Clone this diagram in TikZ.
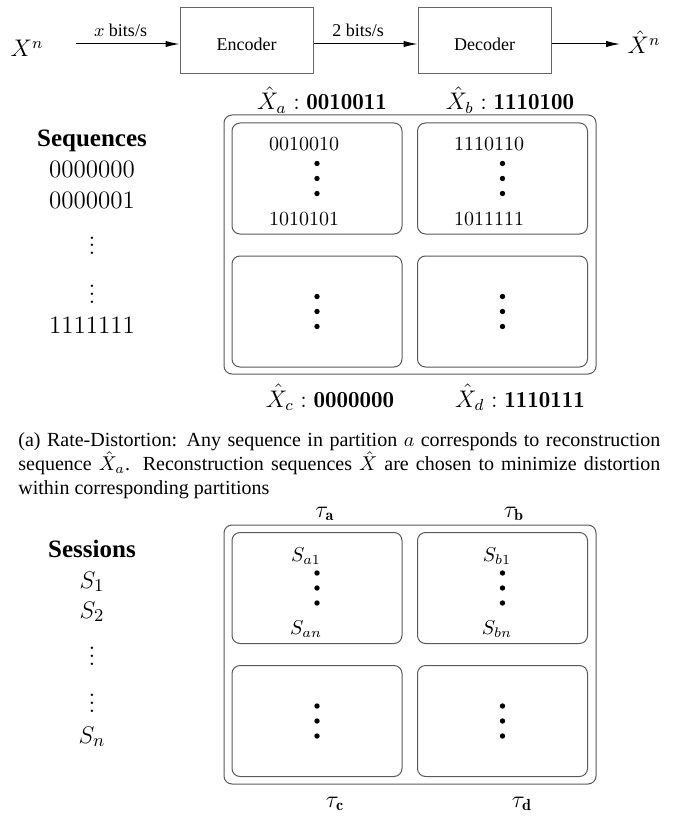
\documentclass[tikz,border=0pt]{standalone}
\usepackage{fontspec}
\newfontfamily\timesfont{Liberation Serif}
\usepackage{tikz}
\usetikzlibrary{arrows.meta,positioning}

\begin{document}
\begin{tikzpicture}[
  x=0.5pt, y=-0.5pt,
  block/.style={rectangle, draw=black!60, line width=0.5pt, minimum width=66.5pt, minimum height=33pt, text height=10pt, text depth=0pt, inner sep=0pt, font=\timesfont\fontsize{9}{11}\selectfont},
  arr/.style={-{Latex[length=7pt,width=3.2pt]}, line width=0.5pt},
  outerbox/.style={rectangle, draw=black!65, rounded corners=4pt, line width=0.5pt, minimum width=186pt, minimum height=129.5pt},
  partbox/.style={rectangle, draw=black!65, rounded corners=4pt, line width=0.5pt, minimum width=85pt, minimum height=55.5pt},
  lbl/.style={anchor=base, inner sep=0pt, font=\fontsize{11.5}{13}\selectfont},
  seqtxt/.style={anchor=base, inner sep=0pt, font=\fontsize{12.5}{15}\selectfont},
  boxtxt/.style={anchor=base, inner sep=0pt, font=\fontsize{10}{12}\selectfont},
  headtxt/.style={anchor=base, inner sep=0pt, font=\timesfont\bfseries\fontsize{12.5}{15}\selectfont},
  ratelbl/.style={anchor=base, inner sep=0pt, yshift=3.5pt, pos=0.43, font=\timesfont\fontsize{9}{11}\selectfont}
]
  \useasboundingbox (0,0) rectangle (678,818);

  % encoder / decoder chain
  \node[lbl] (xn) at (27,57) {$X^n$};
  \coordinate (src) at (76,44);
  \node[block] (enc) at (246.5,41) {Encoder};
  \node[block] (dec) at (484.5,41) {Decoder};
  \coordinate (sink) at (620,44);
  \node[lbl] (xhat) at (644,54) {$\hat{X}^n$};

  \draw[arr] (src) -- node[ratelbl] (r1) {$x$ bits/s} ([yshift=-1.5pt]enc.west);
  \draw[arr] ([yshift=-1.5pt]enc.east) -- node[ratelbl] (r2) {2 bits/s} ([yshift=-1.5pt]dec.west);
  \draw[arr] ([yshift=-1.5pt]dec.east) -- (sink);

  % sequences and partitions
  \node[headtxt] (seqh) at (92,147) {Sequences};
  \node[seqtxt] (q0) at (92,178) {0000000};
  \node[seqtxt] (q1) at (92,208) {0000001};
  \node[seqtxt] (qd1) at (92,255) {$\vdots$};
  \node[seqtxt] (qd2) at (92,303) {$\vdots$};
  \node[seqtxt] (q7) at (92,333) {1111111};

  \node[outerbox] (grid1) at (410,244.5) {};
  \node[partbox] (pa) at (317,178.5) {};
  \node[partbox] (pb) at (502.5,178.5) {};
  \node[partbox] (pc) at (317,311.5) {};
  \node[partbox] (pd) at (502.5,311.5) {};

  \node[lbl] (xa) at (322,110) {$\hat{X}_a : \mathbf{0010011}$};
  \node[lbl] (xb) at (510,110) {$\hat{X}_b : \mathbf{1110100}$};
  \node[lbl] (xc) at (330,407) {$\hat{X}_c : \mathbf{0000000}$};
  \node[lbl] (xd) at (520,407) {$\hat{X}_d : \mathbf{1110111}$};

  \node[boxtxt] (a1) at (304,151) {0010010};
  \node[boxtxt] (an) at (304,226) {1010101};
  \node[boxtxt] (b1) at (489,151) {1110110};
  \node[boxtxt] (bn) at (489,226) {1011111};

  % caption
  \node[anchor=north west, inner sep=0pt, text width=321pt, align=justify,
        font=\timesfont\fontsize{10}{12}\selectfont] (cap) at (18,432)
    {(a) Rate-Distortion: Any sequence in partition $a$ corresponds to reconstruction\linebreak
     sequence $\hat{X}_a$. Reconstruction sequences $\hat{X}$ are chosen to minimize distortion\linebreak
     within corresponding partitions};

  % sessions and time slots
  \node[headtxt] (sesh) at (92,557) {Sessions};
  \node[seqtxt] (s1) at (92,588) {$S_1$};
  \node[seqtxt] (s2) at (92,618) {$S_2$};
  \node[seqtxt] (sd1) at (92,665) {$\vdots$};
  \node[seqtxt] (sd2) at (92,712) {$\vdots$};
  \node[seqtxt] (sn) at (92,743) {$S_n$};

  \node[outerbox] (grid2) at (410,654.5) {};
  \node[partbox] (ta) at (317,588) {};
  \node[partbox] (tb) at (502.5,588) {};
  \node[partbox] (tc) at (317,721) {};
  \node[partbox] (td) at (502.5,721) {};

  \node[lbl] (taua) at (325,517) {$\tau_{\mathbf{a}}$};
  \node[lbl] (taub) at (514,517) {$\tau_{\mathbf{b}}$};
  \node[lbl] (tauc) at (335,807) {$\tau_{\mathbf{c}}$};
  \node[lbl] (taud) at (522,807) {$\tau_{\mathbf{d}}$};

  \node[boxtxt] (sa1) at (306,561) {$S_{a1}$};
  \node[boxtxt] (san) at (306,634) {$S_{an}$};
  \node[boxtxt] (sb1) at (497,561) {$S_{b1}$};
  \node[boxtxt] (sbn) at (497,634) {$S_{bn}$};

  % big dots inside every partition
  \foreach \p in {pa,pb,pc,pd,ta,tb,tc,td}
    \foreach \d in {-15,0,15}
      \fill (\p.center) ++(0,\d) circle (1.35pt);
\end{tikzpicture}
\end{document}
